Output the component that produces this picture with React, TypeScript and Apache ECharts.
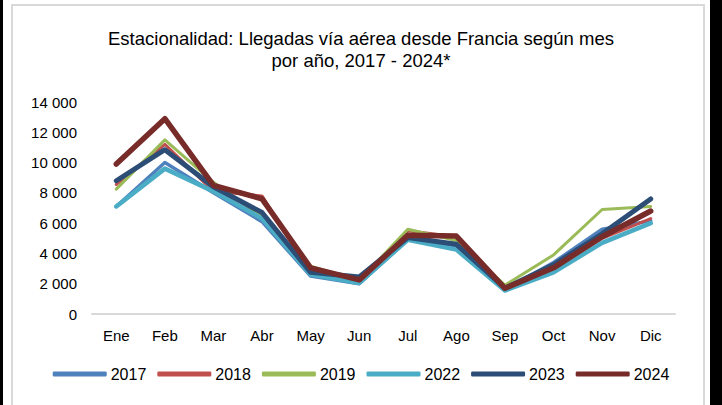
import React, { useEffect, useRef } from "react";
import * as echarts from "echarts";

const months = ["Ene", "Feb", "Mar", "Abr", "May", "Jun", "Jul", "Ago", "Sep", "Oct", "Nov", "Dic"];
const years = ["2017", "2018", "2019", "2022", "2023", "2024"];
const v2017 = [7100, 10000, 8000, 6100, 2500, 2000, 4950, 4500, 1600, 3400, 5600, 6150];
const v2018 = [8550, 11200, 8100, 7800, 2700, 2150, 5500, 5100, 1650, 3000, 5000, 6300];
const v2019 = [8250, 11500, 8700, 6400, 3150, 2200, 5600, 4850, 1900, 3900, 6900, 7100];
const v2022 = [7100, 9600, 8100, 6300, 2600, 2050, 4900, 4250, 1550, 2750, 4700, 6000];
const v2023 = [8800, 10850, 8400, 6700, 2750, 2450, 5050, 4600, 1700, 3250, 5300, 7600];
const v2024 = [9900, 12900, 8500, 7600, 3050, 2250, 5200, 5150, 1700, 3050, 5100, 6800];
const yTicks = [0, 2000, 4000, 6000, 8000, 10000, 12000, 14000];

const colors = ["#4F81BD", "#C0504D", "#9BBB59", "#4BACC6", "#2C4D75", "#772C2A"];
const widths = [3.5, 3, 3, 4.5, 5, 5.5];
const values = [v2017, v2018, v2019, v2022, v2023, v2024];

const FONT = "'Liberation Sans', Arial, sans-serif";

export default function App() {
  const ref = useRef<HTMLDivElement>(null);
  useEffect(() => {
    if (!ref.current) return;
    const chart = echarts.init(ref.current, null, { renderer: "svg" });
    chart.setOption({
      animation: false,
      backgroundColor: "#ffffff",
      title: {
        text: "Estacionalidad: Llegadas vía aérea desde Francia según mes\npor año, 2017 - 2024*",
        left: "center",
        top: 22,
        textStyle: {
          fontFamily: FONT,
          fontSize: 18.5,
          fontWeight: "normal",
          color: "#000000",
          lineHeight: 22,
          align: "center",
        },
      },
      graphic: [
        { type: "rect", shape: { x: 0, y: 0, width: 3, height: 405 }, style: { fill: "#000000" } },
        { type: "rect", shape: { x: 710, y: 0, width: 12, height: 405 }, style: { fill: "#000000" } },
        { type: "rect", shape: { x: 12, y: 5, width: 692, height: 410 }, style: { fill: "none", stroke: "#D9D9D9", lineWidth: 2 } },
      ],
      legend: {
        data: years,
        bottom: 18,
        left: "center",
        itemWidth: 54,
        itemHeight: 5,
        itemGap: 11,
        icon: "roundRect",
        textStyle: { fontFamily: FONT, fontSize: 16, color: "#000000", padding: [0, 0, 0, -1] },
      },
      grid: { left: 92, right: 47, top: 102, bottom: 91, containLabel: false },
      xAxis: {
        type: "category",
        data: months,
        boundaryGap: true,
        axisLine: { lineStyle: { color: "#D9D9D9", width: 2 } },
        axisTick: { show: false },
        axisLabel: { fontFamily: FONT, fontSize: 15, color: "#000000", margin: 14 },
      },
      yAxis: {
        type: "value",
        min: yTicks[0],
        max: yTicks[yTicks.length - 1],
        interval: 2000,
        splitLine: { show: false },
        axisLine: { show: false },
        axisTick: { show: false },
        axisLabel: {
          fontFamily: FONT,
          fontSize: 15,
          color: "#000000",
          margin: 15,
          formatter: (v: number) => String(v).replace(/\B(?=(\d{3})+(?!\d))/g, " "),
        },
      },
      series: years.map((y, i) => ({
        name: y,
        type: "line",
        data: values[i],
        showSymbol: false,
        symbol: "none",
        color: colors[i],
        lineStyle: { color: colors[i], width: widths[i], cap: "round", join: "round" },
        itemStyle: { color: colors[i] },
        z: 2 + i,
      })),
    });
    return () => chart.dispose();
  }, []);
  return (
    <div
      ref={ref}
      style={{ position: "fixed", left: 0, top: 0, width: 722, height: 405 }}
    />
  );
}
